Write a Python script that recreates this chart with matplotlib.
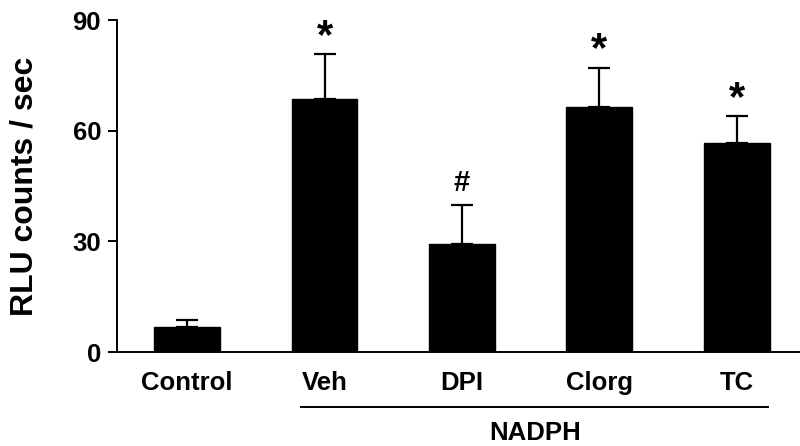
import numpy as np
import matplotlib
matplotlib.use('Agg')
import matplotlib.pyplot as plt
import matplotlib.transforms as mtransforms

# values
groups = ['Control', 'Veh', 'DPI', 'Clorg', 'TC']
rlu_mean = [6.8, 68.5, 29.2, 66.5, 56.7]
rlu_sem = [2.0, 12.2, 10.6, 10.6, 7.3]
sig_marks = ['', '*', '#', '*', '*']
y_ticks = [0, 30, 60, 90]
nadph_groups = ['Veh', 'DPI', 'Clorg', 'TC']

plt.rcParams['font.family'] = ['Liberation Sans', 'DejaVu Sans']
plt.rcParams['font.weight'] = 'bold'

fig = plt.figure(figsize=(8, 4.46), dpi=100)
ax = fig.add_axes([117/800, 1-352/446, 683/800, 332/446])

x = np.arange(len(groups))
ax.bar(x, rlu_mean, width=0.48, color='black', edgecolor='black', zorder=2)
ax.errorbar(x, rlu_mean, yerr=[np.zeros(len(x)), rlu_sem], fmt='none',
            ecolor='black', elinewidth=1.6, capsize=8, capthick=1.6, zorder=1)

for xi, m, s, mk in zip(x, rlu_mean, rlu_sem, sig_marks):
  if not mk:
    continue
  fs = 30 if mk == '*' else 21
  off = -2 if mk == '*' else 6
  ax.annotate(mk, xy=(xi, m+s), xytext=(0, off), textcoords='offset points',
              ha='center', va='bottom', fontsize=fs, fontweight='bold')

ax.set_xlim(-0.51, 4.46)
ax.set_ylim(0, 90)
ax.set_yticks(y_ticks)
ax.set_xticks(x)
ax.set_xticklabels(groups)
ax.tick_params(axis='x', length=0, pad=14, labelsize=18.5)
ax.tick_params(axis='y', length=6.5, width=1.4, pad=5, labelsize=18.5)
for sp in ['top', 'right']:
  ax.spines[sp].set_visible(False)
for sp in ['left', 'bottom']:
  ax.spines[sp].set_linewidth(1.4)

ax.set_ylabel('RLU counts / sec', fontsize=23, fontweight='bold')
ax.yaxis.set_label_coords(-0.113, 0.5)

# NADPH group line
trans = mtransforms.blended_transform_factory(ax.transData, ax.transAxes)
i0 = groups.index(nadph_groups[0])
i1 = groups.index(nadph_groups[-1])
ax.plot([i0-0.17, i1+0.23], [-0.165, -0.165], color='black', lw=1.4,
        transform=trans, clip_on=False)
ax.text((i0+i1)/2 + 0.03, -0.245, 'NADPH', transform=trans, ha='center',
        va='center', fontsize=18.5, fontweight='bold')

fig.savefig('out.png', dpi=100)
